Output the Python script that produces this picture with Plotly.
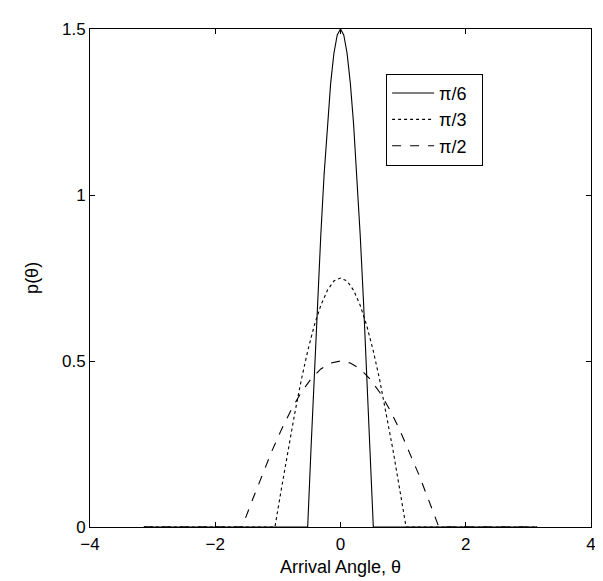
import plotly.graph_objects as go

# theta_m = pi/6 (peak 1.5)
x_pi6 = [-3.14, -0.524, -0.471, -0.419, -0.367, -0.314, -0.262, -0.209, -0.157, -0.105, -0.052, 0.0,
         0.052, 0.105, 0.157, 0.209, 0.262, 0.314, 0.367, 0.419, 0.471, 0.524, 3.14]
y_pi6 = [0.0, 0.0, 0.235, 0.464, 0.681, 0.882, 1.061, 1.214, 1.337, 1.427, 1.482, 1.5,
         1.482, 1.427, 1.337, 1.214, 1.061, 0.882, 0.681, 0.464, 0.235, 0.0, 0.0]

# theta_m = pi/3 (peak 0.75)
x_pi3 = [-3.14, -1.047, -0.942, -0.838, -0.733, -0.628, -0.524, -0.419, -0.314, -0.209, -0.105, 0.0,
         0.105, 0.209, 0.314, 0.419, 0.524, 0.628, 0.733, 0.838, 0.942, 1.047, 3.14]
y_pi3 = [0.0, 0.0, 0.117, 0.232, 0.340, 0.441, 0.530, 0.607, 0.668, 0.713, 0.741, 0.75,
         0.741, 0.713, 0.668, 0.607, 0.530, 0.441, 0.340, 0.232, 0.117, 0.0, 0.0]

# theta_m = pi/2 (peak 0.5)
x_pi2 = [-3.14, -1.571, -1.414, -1.257, -1.100, -0.942, -0.785, -0.628, -0.471, -0.314, -0.157, 0.0,
         0.157, 0.314, 0.471, 0.628, 0.785, 0.942, 1.100, 1.257, 1.414, 1.571, 3.14]
y_pi2 = [0.0, 0.0, 0.078, 0.155, 0.227, 0.294, 0.354, 0.405, 0.446, 0.476, 0.494, 0.5,
         0.494, 0.476, 0.446, 0.405, 0.354, 0.294, 0.227, 0.155, 0.078, 0.0, 0.0]

names = ["π/6", "π/3", "π/2"]
dashes = ["solid", "dot", "dash"]
x_ticks = [-4, -2, 0, 2, 4]
y_ticks = [0, 0.5, 1, 1.5]
y_tick_labels = ["0", "0.5", "1", "1.5"]
x_title = "Arrival Angle, θ"
y_title = "p(θ)"

fig = go.Figure()
for i, (xs, ys, nm, ds) in enumerate(zip([x_pi6, x_pi3, x_pi2], [y_pi6, y_pi3, y_pi2], names, dashes)):
    fig.add_trace(go.Scatter(x=xs, y=ys, mode="lines", name=nm + "\u00a0\u00a0",
                             legendgroup=f"g{i}",
                             line=dict(color="black", width=1.1, dash=ds)))

font = "Liberation Sans, Arial, sans-serif"
FS = 18
TFS = 17
axis_common = dict(showgrid=False, zeroline=False, showline=True, linecolor="black",
                   linewidth=1, mirror="ticks", ticks="inside", ticklen=5,
                   tickcolor="black", tickfont=dict(size=TFS, color="black", family=font))

fig.update_layout(
    width=603, height=581,
    margin=dict(l=82, r=20, t=19, b=62),
    plot_bgcolor="white", paper_bgcolor="white",
    font=dict(family=font, size=FS, color="black"),
    xaxis=dict(range=[-4, 4], tickvals=x_ticks, ticklabelstandoff=2, **axis_common),
    yaxis=dict(range=[0, 1.5], tickvals=y_ticks, ticktext=y_tick_labels, **axis_common),
    legend=dict(x=0.591, y=0.91, xanchor="left", yanchor="top",
                bordercolor="black", borderwidth=1, bgcolor="white",
                font=dict(size=FS), traceorder="grouped", tracegroupgap=0,
                itemwidth=42),
    showlegend=True,
    annotations=[
        dict(text=x_title, xref="paper", yref="paper", x=0.5, y=-0.081,
             xanchor="center", yanchor="middle", showarrow=False, font=dict(size=FS)),
        dict(text=y_title, xref="paper", yref="paper", x=-0.116, y=0.5,
             xanchor="center", yanchor="middle", showarrow=False, textangle=-90,
             font=dict(size=FS)),
    ],
)

fig.write_html("out.html")
